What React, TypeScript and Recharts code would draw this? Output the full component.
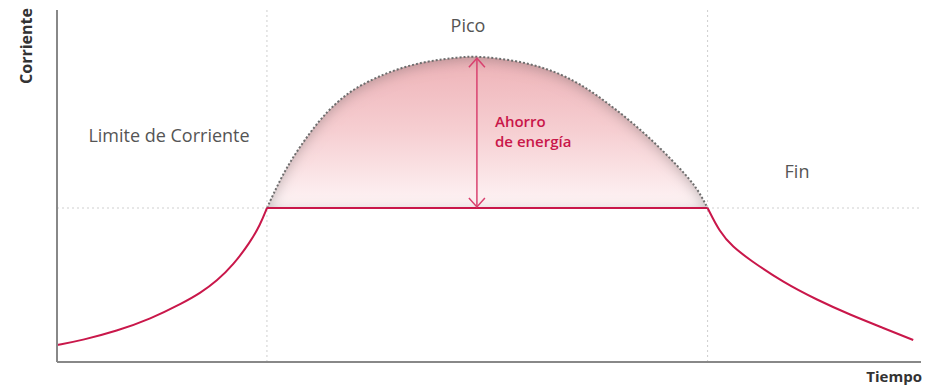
import React from 'react';
import {
  ComposedChart,
  Line,
  Area,
  XAxis,
  YAxis,
  ReferenceLine,
} from 'recharts';

// time 0..100, current 0..100 (arbitrary units)
const LIMIT = 43.75;
const PEAK_START = 24.3;
const PEAK_END = 75.3;

const rampTime = [0, 3.0, 6.9, 10.8, 14.6, 16.6, 18.5, 20.4, 22.3, 23.5, 24.3];
const rampCurrent = [4.8, 6.25, 8.8, 12.2, 16.8, 19.6, 23.0, 27.6, 33.8, 38.9, 43.75];

const peakTime = [24.3, 25.8, 27.3, 29.3, 31.2, 33.1, 35.1, 38.9, 42.8, 46.6, 48.6, 52.8, 56.7, 60.5, 64.4, 68.3, 72.1, 74.1, 75.3];
const peakCurrent = [43.75, 51.7, 58.2, 65.3, 71.0, 75.3, 78.7, 83.0, 85.5, 86.6, 86.9, 85.8, 83.5, 79.3, 72.4, 64.5, 55.1, 49.4, 43.75];

const fallTime = [75.3, 76.7, 78.2, 80.2, 84.0, 88.0, 91.8, 95.6, 99.1];
const fallCurrent = [43.75, 36.9, 32.7, 29.0, 22.7, 17.6, 13.4, 9.7, 6.25];

const savingTime = 48.6;
const savingTop = 86.3;

const rampData = rampTime.map((t, i) => ({ t, c: rampCurrent[i] }));
const flatData = [
  { t: PEAK_START, c: LIMIT },
  { t: PEAK_END, c: LIMIT },
];
const peakData = peakTime.map((t, i) => ({ t, c: peakCurrent[i] }));
const fallData = fallTime.map((t, i) => ({ t, c: fallCurrent[i] }));
const arrowData = [
  { t: savingTime, c: savingTop },
  { t: savingTime, c: LIMIT + 0.3 },
];

const RED = '#c9174a';
const font = '"Open Sans", sans-serif';

const ArrowHead = (props: any) => {
  const { cx, cy, index } = props;
  const dir = index === 0 ? 1 : -1;
  return (
    <path
      key={`ah-${index}`}
      d={`M${cx - 8},${cy + dir * 9} L${cx},${cy} L${cx + 8},${cy + dir * 9}`}
      fill="none"
      stroke="#d9416f"
      strokeWidth={1.5}
    />
  );
};

const labelStyle: React.CSSProperties = {
  position: 'absolute',
  fontFamily: font,
  whiteSpace: 'nowrap',
  lineHeight: 1,
};

export default function App() {
  return (
    <div style={{ position: 'absolute', left: 0, top: 0, width: 925, height: 387, background: '#fff' }}>
      <style>{`.arc-area .recharts-area-area { filter: url(#arcShadow); }`}</style>
      <ComposedChart width={925} height={387} margin={{ top: 10, right: 4, left: 0, bottom: 0 }}>
        <defs>
          <linearGradient id="arcFill" x1="0" y1="0" x2="0" y2="1">
            <stop offset="0%" stopColor="#eeb2b7" />
            <stop offset="50%" stopColor="#f6cfd2" />
            <stop offset="100%" stopColor="#fef5f6" />
          </linearGradient>
          <filter id="arcShadow" x="-20%" y="-20%" width="140%" height="140%">
            <feComponentTransfer in="SourceAlpha" result="inverse">
              <feFuncA type="table" tableValues="1 0" />
            </feComponentTransfer>
            <feOffset in="inverse" dy="3" result="off" />
            <feGaussianBlur in="off" stdDeviation="7" result="blur" />
            <feFlood floodColor="#707070" floodOpacity="0.6" result="color" />
            <feComposite in="color" in2="blur" operator="in" result="shadow" />
            <feComposite in="shadow" in2="SourceAlpha" operator="in" result="inner" />
            <feMerge>
              <feMergeNode in="SourceGraphic" />
              <feMergeNode in="inner" />
            </feMerge>
          </filter>
        </defs>
        <XAxis
          type="number"
          dataKey="t"
          domain={[0, 100]}
          tick={false}
          tickLine={false}
          height={25}
          axisLine={{ stroke: '#888', strokeWidth: 2 }}
        />
        <YAxis
          type="number"
          dataKey="c"
          domain={[0, 100]}
          tick={false}
          tickLine={false}
          width={57}
          axisLine={{ stroke: '#888', strokeWidth: 2 }}
        />
        <ReferenceLine x={PEAK_START} stroke="#cfcfcf" strokeDasharray="2 3" />
        <ReferenceLine x={PEAK_END} stroke="#cfcfcf" strokeDasharray="2 3" />
        <ReferenceLine y={LIMIT} stroke="#cfcfcf" strokeDasharray="2 3" />
        <Area
          className="arc-area"
          data={peakData}
          dataKey="c"
          type="basis"
          baseValue={LIMIT}
          fill="url(#arcFill)"
          fillOpacity={1}
          stroke="#6e6e6e"
          strokeWidth={2}
          strokeDasharray="2 2"
          dot={false}
          activeDot={false}
          isAnimationActive={false}
        />
        <Line
          data={arrowData}
          dataKey="c"
          type="linear"
          stroke="#d9416f"
          strokeWidth={1.5}
          dot={ArrowHead}
          activeDot={false}
          isAnimationActive={false}
        />
        <Line
          data={rampData}
          dataKey="c"
          type="basis"
          stroke={RED}
          strokeWidth={2}
          dot={false}
          activeDot={false}
          isAnimationActive={false}
        />
        <Line
          data={flatData}
          dataKey="c"
          type="linear"
          stroke={RED}
          strokeWidth={2}
          dot={false}
          activeDot={false}
          isAnimationActive={false}
        />
        <Line
          data={fallData}
          dataKey="c"
          type="basis"
          stroke={RED}
          strokeWidth={2}
          dot={false}
          activeDot={false}
          isAnimationActive={false}
        />
      </ComposedChart>

      <div
        style={{
          ...labelStyle,
          left: 26,
          top: 46,
          fontSize: 16,
          fontWeight: 700,
          color: '#333',
          transform: 'translate(-50%, -50%) rotate(-90deg)',
        }}
      >
        Corriente
      </div>
      <div style={{ ...labelStyle, right: 3, top: 369, fontSize: 15, fontWeight: 700, color: '#333' }}>
        Tiempo
      </div>
      <div style={{ ...labelStyle, left: 468, top: 16, fontSize: 18, color: '#555', transform: 'translateX(-50%)' }}>
        Pico
      </div>
      <div style={{ ...labelStyle, left: 169, top: 126, fontSize: 18, color: '#555', transform: 'translateX(-50%)' }}>
        Limite de Corriente
      </div>
      <div style={{ ...labelStyle, left: 797, top: 162, fontSize: 18, color: '#555', transform: 'translateX(-50%)' }}>
        Fin
      </div>
      <div style={{ ...labelStyle, left: 495, top: 111, fontSize: 15, fontWeight: 600, color: RED, lineHeight: '20px' }}>
        Ahorro
        <br />
        de energía
      </div>
    </div>
  );
}
